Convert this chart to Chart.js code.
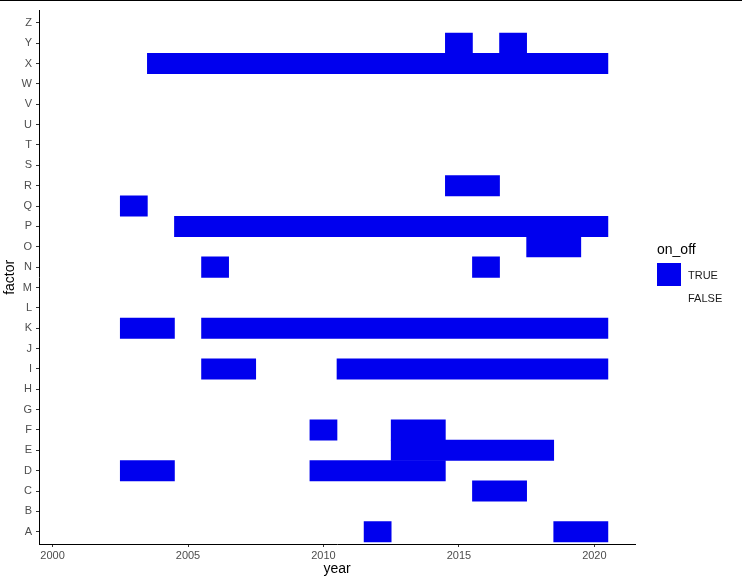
<!DOCTYPE html>
<html>
<head>
<meta charset="utf-8">
<script src="https://cdn.jsdelivr.net/npm/chart.js@4/dist/chart.umd.min.js"></script>
<style>
  body { margin: 0; background: #fff; }
  #wrap { position: relative; width: 742px; height: 585px; font-family: "Liberation Sans", Arial, sans-serif; }
  #topline { position: absolute; left: 0; top: 0; width: 742px; height: 1px; background: #000; }
  #legend { position: absolute; left: 657px; top: 240px; }
  #legend .title { font-size: 14px; color: #000; height: 18px; line-height: 18px; margin-bottom: 5px; }
  #legend .item { height: 23px; display: flex; align-items: center; font-size: 11px; color: #1a1a1a; }
  #legend .key { width: 24px; height: 23px; margin-right: 7px; }
</style>
</head>
<body>
<div id="wrap">
  <canvas id="grafico" width="742" height="585"></canvas>
  <div id="topline"></div>
  <div id="legend">
    <div class="title">on_off</div>
    <div class="item"><div class="key" style="background:#0000EE"></div>TRUE</div>
    <div class="item"><div class="key" style="background:#fff"></div>FALSE</div>
  </div>
</div>
<script>
// factor levels, bottom to top
const factors = ["A","B","C","D","E","F","G","H","I","J","K","L","M","N","O","P","Q","R","S","T","U","V","W","X","Y","Z"];

// years where on_off is TRUE, same order as factors
const onYears = [
    [2012, 2019, 2020],                                   // A
    [],                                                   // B
    [2016, 2017],                                         // C
    [2003, 2004, 2010, 2011, 2012, 2013, 2014],           // D
    [2013, 2014, 2015, 2016, 2017, 2018],                 // E
    [2010, 2013, 2014],                                   // F
    [],                                                   // G
    [],                                                   // H
    [2006, 2007, 2011, 2012, 2013, 2014, 2015, 2016, 2017, 2018, 2019, 2020], // I
    [],                                                   // J
    [2003, 2004, 2006, 2007, 2008, 2009, 2010, 2011, 2012, 2013, 2014, 2015, 2016, 2017, 2018, 2019, 2020], // K
    [],                                                   // L
    [],                                                   // M
    [2006, 2016],                                         // N
    [2018, 2019],                                         // O
    [2005, 2006, 2007, 2008, 2009, 2010, 2011, 2012, 2013, 2014, 2015, 2016, 2017, 2018, 2019, 2020], // P
    [2003],                                               // Q
    [2015, 2016],                                         // R
    [], [], [], [], [],                                   // S T U V W
    [2004, 2005, 2006, 2007, 2008, 2009, 2010, 2011, 2012, 2013, 2014, 2015, 2016, 2017, 2018, 2019, 2020], // X
    [2015, 2017],                                         // Y
    []                                                    // Z
];

const yearTicks = [2000, 2005, 2010, 2015, 2020];

// join consecutive years into one tile run so there are no seams
function buildTiles(){
    let tiles = [];
    onYears.forEach((years, i) => {
        let start = null, prev = null;
        years.forEach(y => {
            if (start === null) { start = y; }
            else if (y !== prev + 1) {
                tiles.push({ x: [start - 0.5, prev + 0.5], y: i + 1 });
                start = y;
            }
            prev = y;
        });
        if (start !== null) tiles.push({ x: [start - 0.5, prev + 0.5], y: i + 1 });
    });
    return tiles;
}

const tickFont = { family: "'Liberation Sans', Arial, sans-serif", size: 11 };
const titleFont = { family: "'Liberation Sans', Arial, sans-serif", size: 14 };

new Chart(document.getElementById("grafico"), {
    type: 'bar',
    data: {
        datasets: [{
            label: "TRUE",
            data: buildTiles(),
            backgroundColor: "#0000EE",
            borderWidth: 0,
            barPercentage: 1,
            categoryPercentage: 1
        }]
    },
    options: {
        indexAxis: 'y',
        responsive: false,
        animation: false,
        layout: { padding: { top: 8, right: 107, left: 0, bottom: 0 } },
        plugins: {
            legend: { display: false },
            tooltip: { enabled: false }
        },
        scales: {
            x: {
                type: 'linear',
                min: 1999.5,
                max: 2021.5,
                afterFit: s => { s.height = 41; },
                afterBuildTicks: s => { s.ticks = yearTicks.map(v => ({ value: v })); },
                ticks: { color: "#4D4D4D", font: tickFont, padding: 2, autoSkip: false, maxRotation: 0,
                         callback: v => String(v) },
                grid: { drawOnChartArea: false, drawTicks: true, tickLength: 3, tickColor: "#333", tickWidth: 1 },
                border: { display: true, color: "#000", width: 1 },
                title: { display: true, text: "year", color: "#000", font: titleFont, padding: { top: 0, bottom: 7 } }
            },
            y: {
                type: 'linear',
                min: 0.4,
                max: 26.6,
                offset: false,
                afterFit: s => { s.width = 39; },
                afterBuildTicks: s => { s.ticks = factors.map((f, i) => ({ value: i + 1 })); },
                ticks: { color: "#4D4D4D", font: tickFont, padding: 4, autoSkip: false,
                         callback: v => factors[v - 1] },
                grid: { offset: false, drawOnChartArea: false, drawTicks: true, tickLength: 3, tickColor: "#333", tickWidth: 1 },
                border: { display: true, color: "#000", width: 1 },
                title: { display: true, text: "factor", color: "#000", font: titleFont, padding: { top: 2, bottom: 0 } }
            }
        }
    }
});
</script>
</body>
</html>
